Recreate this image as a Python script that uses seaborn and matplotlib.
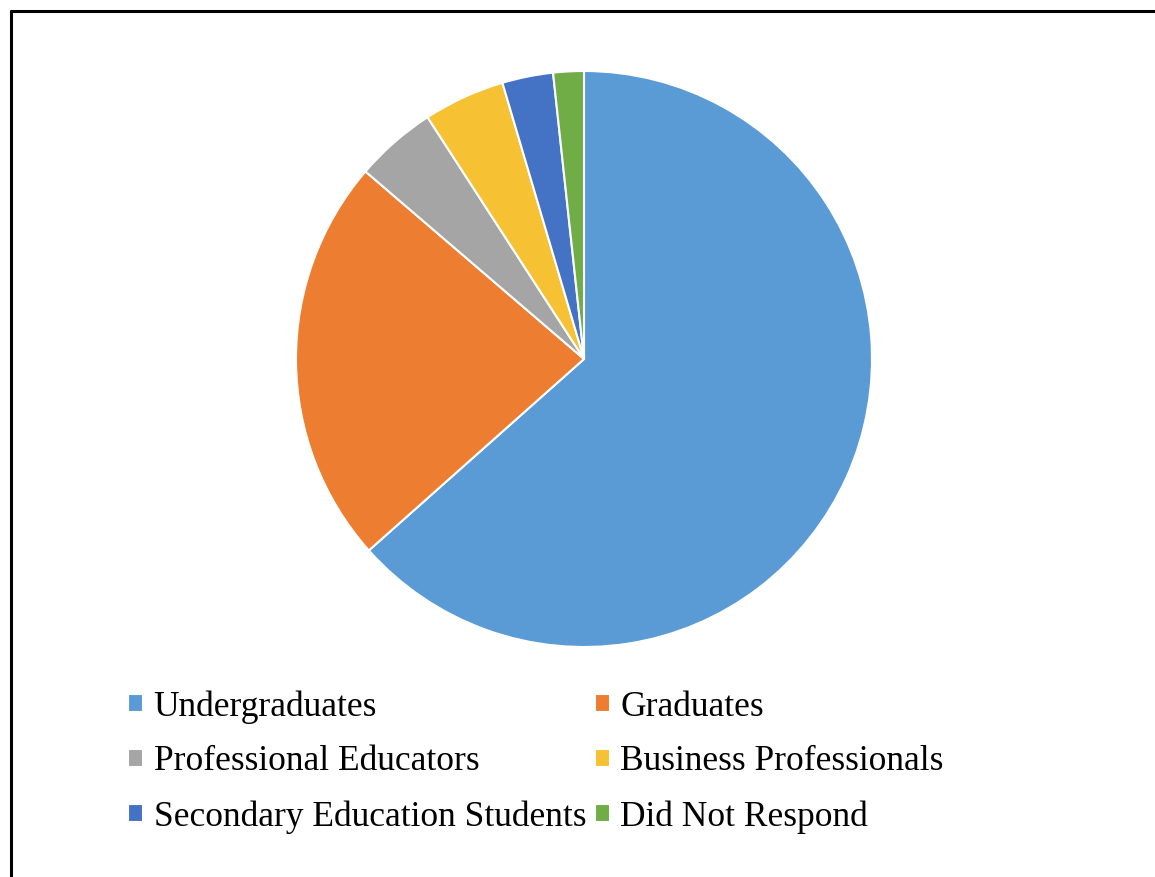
import matplotlib
matplotlib.use("Agg")
import matplotlib.pyplot as plt
from matplotlib.lines import Line2D
import seaborn as sns

# Respondent groups and their counts
categories = [
    "Undergraduates",
    "Graduates",
    "Professional Educators",
    "Business Professionals",
    "Secondary Education Students",
    "Did Not Respond",
]
counts = [111, 40, 8, 8, 5, 3]
slice_colors = ["#5B9BD5", "#ED7D31", "#A5A5A5", "#F6C133", "#4472C4", "#70AD47"]

sns.set_theme(style="white")
plt.rcParams["font.family"] = ["Liberation Serif", "DejaVu Serif"]
plt.rcParams["text.color"] = "black"

W, H = 1155, 877
fig = plt.figure(figsize=(W / 100, H / 100), dpi=100)
fig.patch.set_facecolor("white")

# Square axes holding the pie
cx, cy, r = 584, 359, 288
ax = fig.add_axes([(cx - r) / W, 1 - (cy + r) / H, 2 * r / W, 2 * r / H])
palette = sns.color_palette(slice_colors)
wedges, _ = ax.pie(
    counts,
    colors=palette,
    startangle=90,
    counterclock=False,
    radius=1,
    wedgeprops=dict(edgecolor="white", linewidth=1.5),
)
ax.set_xlim(-1, 1)
ax.set_ylim(-1, 1)
ax.set_aspect("equal")
ax.axis("off")

# Legend in two columns, row-major order
order = [0, 2, 4, 1, 3, 5]
fig.legend(
    [wedges[i] for i in order],
    [categories[i] for i in order],
    ncol=2,
    loc="upper left",
    bbox_to_anchor=(128 / W, 1 - 690 / H),
    frameon=False,
    fontsize=25.5,
    labelcolor="black",
    handlelength=0.42,
    handleheight=0.42,
    handletextpad=0.3,
    columnspacing=0.25,
    labelspacing=0.62,
    borderpad=0,
    borderaxespad=0,
)

# Outer frame: left and top edges
lw = 2.2
fig.add_artist(Line2D([10.5 / W, 10.5 / W], [0, 1 - 10.5 / H], color="black", lw=lw,
                      transform=fig.transFigure))
fig.add_artist(Line2D([10.5 / W, 1], [1 - 10.5 / H, 1 - 10.5 / H], color="black", lw=lw,
                      transform=fig.transFigure))

fig.savefig("out.png", dpi=100, facecolor="white")
